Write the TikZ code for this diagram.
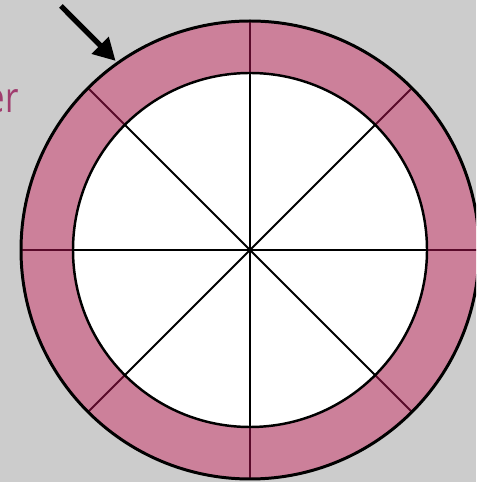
\documentclass[tikz,border=0pt]{standalone}
\usepackage{fontspec}
\usetikzlibrary{arrows.meta}
\newfontfamily\tagfont[FakeStretch=0.78]{Open Sans}
\definecolor{paper}{HTML}{CCCCCC}
\definecolor{ringpink}{HTML}{CC809A}
\definecolor{seamred}{HTML}{5A0A2A}
\definecolor{tagpurple}{HTML}{A03C6E}

\begin{document}
\begin{tikzpicture}[
    x=0.02cm, y=0.02cm,
    rim/.style={fill=ringpink, draw=black, line width=1.7pt},
    core/.style={fill=white, draw=black, line width=1.4pt},
    spoke/.style={draw=black, line width=1.1pt},
    seam/.style={draw=seamred, line width=1.1pt},
    pointer/.style={-{Triangle[length=12.5pt, width=13pt]}, line width=3pt},
    tag/.style={inner sep=0pt, text=tagpurple, font=\tagfont\fontsize{24}{28}\selectfont},
]
% page and clip
\fill[paper] (-250,-232) rectangle (226,250);
\clip (-250,-232) rectangle (226,250);

\coordinate (hub) at (0,0);

% ring with seams
\fill[ringpink] (hub) circle (229);
\foreach \a in {0,45,...,315}
    \draw[seam] (\a:170) -- (\a:229);
\draw[core] (hub) circle (177);
\foreach \a in {0,45,...,315}
    \draw[spoke] (hub) -- (\a:177);
\draw[rim, fill=none] (hub) circle (229);

% pointer to the ring
\coordinate (tail) at (-189,244);
\coordinate (target) at (125.4:232);
\draw[pointer] (tail) -- (target);

\node[tag, anchor=base east] (label) at (-231,137) {er};
\end{tikzpicture}
\end{document}
